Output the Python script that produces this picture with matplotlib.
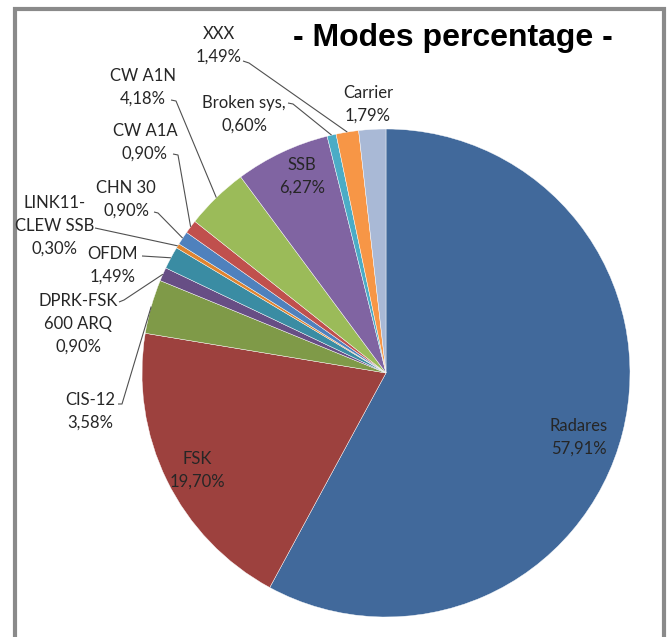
import matplotlib.pyplot as plt
import numpy as np
from matplotlib.patches import Rectangle

# Mode shares (%), clockwise from 12 o'clock
modes = ['Radares', 'FSK', 'CIS-12', 'DPRK-FSK\n600 ARQ', 'OFDM', 'LINK11-\nCLEW SSB',
         'CHN 30', 'CW A1A', 'CW A1N', 'SSB', 'Broken sys.', 'XXX', 'Carrier']
shares = [57.91, 19.70, 3.58, 0.90, 1.49, 0.30, 0.90, 0.90, 4.18, 6.27, 0.60, 1.49, 1.79]
colors = ['#41699B', '#9D413E', '#7F9A48', '#674E85', '#3A8CA3', '#E0842F', '#4F81BD',
          '#C0504D', '#9BBB59', '#8064A2', '#4BACC6', '#F79646', '#A9B9D6']

W, H = 670, 637
fig = plt.figure(figsize=[W / 100, H / 100], dpi=100)
ax = fig.add_axes([0, 0, 1, 1])

FONT = 'Lato'
TXT = '#262626'
FS = 12
LS = 1.52

# chart frame
ax.add_patch(Rectangle((15, -10), 649, H - 9 + 10, fill=False, edgecolor='#8a8a8a', linewidth=3.0))

cx, cy, r = 386, H - 373, 244
wedges, _ = ax.pie(shares, colors=colors, startangle=90, counterclock=False,
                   center=(cx, cy), radius=r, frame=True,
                   wedgeprops=dict(edgecolor='white', linewidth=0.3))
ax.set_xlim(0, W)
ax.set_ylim(0, H)
ax.set_aspect('equal')
ax.axis('off')


def lab(i):
    return f"{modes[i]}\n{shares[i]:.2f}%".replace('.', ',')


def edge_point(i, frac=0.5):
    w = wedges[i]
    a = np.deg2rad(w.theta1 + (w.theta2 - w.theta1) * frac)
    return cx + r * np.cos(a), cy + r * np.sin(a)


# labels inside slices (pixel positions from the top)
inside = {0: (579, 437), 1: (197, 470), 9: (302, 176)}
for i, (x, y) in inside.items():
    ax.text(x, H - y, lab(i), ha='center', va='center', fontsize=FS, family=FONT,
            color=TXT, linespacing=LS)

# outside labels: text centre, leader start, bend
outside = {
    11: ((219, 45), (243, 61), (249, 63)),
    10: ((244, 114), (288, 103), (293, 104)),
    12: ((368, 104), None, None),
    8: ((143, 87), (171, 100), (176, 101)),
    7: ((145, 142), (173, 154), (178, 155)),
    6: ((126, 199), (154, 212), (158, 213)),
    5: ((55, 226), (95, 228), (95, 228)),
    4: ((113, 265), (142, 256), (142, 256)),
    3: ((78, 324), (119, 302), (124, 300)),
    2: ((90, 411), (118, 404), (122, 404)),
}
for i, (pos, p0, p1) in outside.items():
    ax.text(pos[0], H - pos[1], lab(i), ha='center', va='center', fontsize=FS,
            family=FONT, color=TXT, linespacing=LS)
    if p0 is not None:
        ex, ey = edge_point(i)
        ax.plot([p0[0], p1[0], ex], [H - p0[1], H - p1[1], ey], color='#505050',
                linewidth=0.8, solid_capstyle='butt')

ax.text(453, H - 38, '- Modes percentage -', ha='center', va='center', fontsize=23,
        fontweight='bold', family='Liberation Sans', color='black')

plt.savefig('out.png', dpi=100)
plt.close(fig)
